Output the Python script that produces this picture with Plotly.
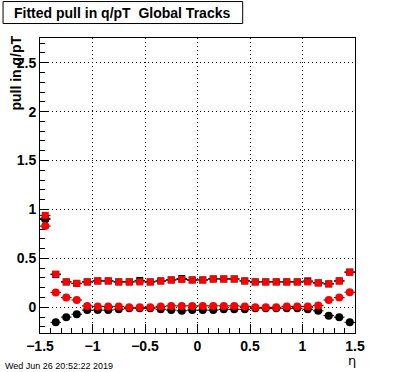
import plotly.graph_objects as go

eta = [round(-1.45 + 0.1 * i, 2) for i in range(30)]

red_sq = [0.94, 0.34, 0.26, 0.245, 0.26, 0.27, 0.27, 0.26, 0.26, 0.26,
          0.26, 0.27, 0.28, 0.285, 0.28, 0.28, 0.29, 0.29, 0.29, 0.27,
          0.26, 0.26, 0.26, 0.26, 0.26, 0.26, 0.25, 0.24, 0.27, 0.36]
black_sq = [0.91, 0.335, 0.26, 0.245, 0.26, 0.27, 0.27, 0.26, 0.26, 0.275,
            0.26, 0.27, 0.28, 0.295, 0.28, 0.28, 0.29, 0.29, 0.29, 0.27,
            0.26, 0.26, 0.26, 0.26, 0.26, 0.27, 0.25, 0.24, 0.27, 0.36]
red_circ = [0.83, 0.153, 0.10, 0.075, 0.015, 0.01, 0.01, 0.01, 0.0, 0.0,
            0.0, 0.01, 0.015, 0.015, 0.015, 0.015, 0.015, 0.015, 0.015, 0.01,
            0.0, 0.0, 0.0, 0.01, 0.01, 0.01, 0.02, 0.075, 0.10, 0.155]
black_circ = [0.90, -0.153, -0.10, -0.07, -0.028, -0.028, -0.028, -0.02, -0.01, -0.01,
              -0.01, -0.02, -0.028, -0.035, -0.028, -0.028, -0.028, -0.02, -0.02, -0.02,
              -0.01, -0.01, -0.01, -0.01, -0.01, -0.02, -0.035, -0.085, -0.10, -0.153]

W, H = 396, 372
L, R, T, B = 40, 40.5, 37.5, 39
pw, ph = W - L - R, H - T - B

def px(x):
    return (x - L) / pw

def py(y):
    return (H - B - y) / ph

ex = dict(type='constant', value=0.05, color='black', thickness=1, width=0)

fig = go.Figure()
fig.add_trace(go.Scatter(x=eta, y=black_circ, mode='markers', error_x=ex,
                         marker=dict(symbol='circle', size=8, color='black'), showlegend=False))
fig.add_trace(go.Scatter(x=eta, y=black_sq, mode='markers', error_x=ex,
                         marker=dict(symbol='square', size=7, color='black'), showlegend=False))
fig.add_trace(go.Scatter(x=eta, y=red_circ, mode='markers', error_x=ex,
                         marker=dict(symbol='circle', size=8, color='#ff0000'), showlegend=False))
fig.add_trace(go.Scatter(x=eta, y=red_sq, mode='markers', error_x=ex,
                         marker=dict(symbol='square', size=7, color='#ff0000'), showlegend=False))

font_b = dict(family='Liberation Sans, Arial, sans-serif', size=14, color='black', weight='bold')
grid_dash = '1px,3px'

fig.update_layout(
    width=W, height=H, autosize=False,
    margin=dict(l=L, r=R, t=T, b=B, pad=0),
    paper_bgcolor='white', plot_bgcolor='white',
    xaxis=dict(range=[-1.5, 1.5], tickmode='array', tickvals=[-1.5, -1, -0.5, 0, 0.5, 1, 1.5],
               ticktext=['\u22121.5', '\u22121', '\u22120.5', '0', '0.5', '1', '1.5'],
               ticks='inside', ticklen=9, tickcolor='black', tickwidth=1,
               minor=dict(dtick=0.1, tick0=0, ticks='inside', ticklen=5, tickcolor='black', showgrid=False),
               showline=True, linecolor='black', linewidth=1, mirror=True,
               showgrid=True, gridcolor='black', griddash=grid_dash, gridwidth=1,
               zeroline=False, tickfont=font_b, automargin=False),
    yaxis=dict(range=[-0.262, 2.752], tickmode='array', tickvals=[0, 0.5, 1, 1.5, 2, 2.5],
               ticktext=['0', '0.5', '1', '1.5', '2', '2.5'],
               ticks='inside', ticklen=9, tickcolor='black', tickwidth=1,
               minor=dict(dtick=0.1, tick0=0, ticks='inside', ticklen=5, tickcolor='black', showgrid=False),
               showline=True, linecolor='black', linewidth=1, mirror=True,
               showgrid=True, gridcolor='black', griddash=grid_dash, gridwidth=1,
               zeroline=False, tickfont=font_b, automargin=False),
    shapes=[dict(type='rect', xref='paper', yref='paper',
                 x0=px(3), x1=px(243), y0=py(23), y1=py(1),
                 line=dict(color='black', width=1), fillcolor='white', layer='above')],
    annotations=[
        dict(text='Fitted pull in q/pT\u00a0\u00a0Global Tracks', xref='paper', yref='paper',
             x=px(12), y=py(12), xanchor='left', yanchor='middle', showarrow=False,
             font=dict(family='Liberation Sans, Arial, sans-serif', size=14, color='black', weight='bold')),
        dict(text='pull in q/pT', xref='paper', yref='paper', x=px(15.5), y=py(33),
             xanchor='center', yanchor='top', textangle=-90, showarrow=False,
             font=dict(family='Liberation Sans, Arial, sans-serif', size=14, color='black', weight='bold')),
        dict(text='\u03b7', xref='paper', yref='paper', x=px(352), y=py(361),
             xanchor='center', yanchor='middle', showarrow=False,
             font=dict(family='DejaVu Sans, sans-serif', size=13, color='black')),
        dict(text='Wed Jun 26 20:52:22 2019', xref='paper', yref='paper', x=px(3), y=py(366),
             xanchor='left', yanchor='middle', showarrow=False,
             font=dict(family='Liberation Sans, Arial, sans-serif', size=9, color='black')),
    ],
)

fig.write_html('out.html', config={'displayModeBar': False},
               post_script="document.body.style.margin='0';document.body.style.overflow='hidden';")
